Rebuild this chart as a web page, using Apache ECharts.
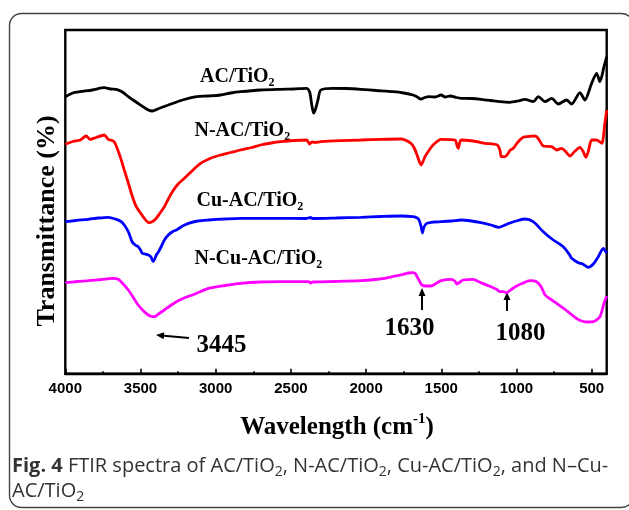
<!DOCTYPE html>
<html><head><meta charset="utf-8">
<script src="https://cdn.jsdelivr.net/npm/echarts@6/dist/echarts.min.js"></script>
<style>html,body{margin:0;padding:0;background:#fff}#c{width:629px;height:510px}</style>
</head><body><div id="c"></div>
<script>
// ---- data (wavenumber cm^-1, transmittance in arbitrary units) ----
const acWn  = [4000,3950,3901,3820,3741,3700,3661,3620,3581,3520,3448,3421,3370,3315,3220,3128,3050,2968,2900,2835,2700,2568,2480,2395,2375,2362,2349,2336,2320,2301,2221,2130,2035,1930,1821,1750,1688,1660,1635,1610,1581,1540,1501,1475,1440,1400,1368,1300,1235,1170,1110,1044,990,944,888,855,810,766,722,666,633,578,545,500,467,445,418,400];
const acT   = [277.0,280.7,282.0,283.7,286.0,284.7,284.4,281.7,277.0,270.7,263.7,262.7,265.7,268.7,273.7,277.0,277.7,278.7,280.7,282.0,283.7,284.4,284.7,285.4,281.7,269.7,260.7,264.7,273.7,283.7,285.4,285.2,284.4,283.2,282.0,280.7,278.7,276.7,274.7,276.2,277.0,276.7,278.7,276.7,277.7,276.2,275.4,275.2,274.4,273.2,272.0,271.4,272.7,274.4,272.0,277.0,272.0,275.4,269.7,273.7,269.7,281.0,273.7,290.4,300.4,292.0,307.0,317.0];

const nacWn = [4000,3950,3901,3861,3835,3795,3741,3715,3675,3635,3608,3581,3555,3528,3500,3475,3443,3420,3395,3370,3341,3315,3288,3250,3208,3150,3101,3030,2968,2900,2835,2760,2701,2630,2568,2480,2395,2376,2360,2341,2301,2168,2035,1901,1768,1701,1680,1661,1645,1635,1620,1608,1580,1555,1501,1408,1395,1387,1378,1368,1288,1208,1128,1110,1101,1077,1040,1021,990,955,920,888,866,845,822,766,733,700,670,644,610,578,555,538,520,500,467,433,412,400];
const nacT  = [229.4,232.2,233.7,237.7,234.4,236.2,238.7,234.4,232.0,217.0,203.7,190.7,177.7,167.0,160.7,155.4,151.0,152.2,155.4,160.7,167.0,174.7,182.0,189.7,195.4,203.7,210.4,215.7,218.7,221.2,223.7,226.2,228.7,230.7,232.0,233.2,233.7,229.7,231.7,231.2,232.0,233.0,233.7,234.4,234.7,230.4,225.7,218.7,211.7,208.7,212.7,217.0,223.7,228.7,234.4,233.7,227.7,225.4,230.7,233.7,232.7,230.4,228.7,223.7,217.0,217.0,223.7,225.4,231.7,236.4,237.2,237.7,237.0,232.7,227.7,227.0,223.7,225.4,221.7,217.7,222.7,226.4,221.7,216.4,223.7,233.7,233.7,230.4,250.7,263.7];

const cuWn  = [4000,3930,3848,3780,3715,3661,3630,3608,3580,3555,3535,3515,3500,3488,3470,3448,3430,3416,3405,3395,3381,3360,3341,3315,3288,3261,3220,3181,3120,3048,2940,2835,2700,2568,2400,2370,2355,2200,2035,1900,1768,1688,1660,1648,1635,1625,1615,1595,1550,1501,1430,1368,1300,1235,1170,1115,1090,1048,990,944,889,822,755,689,650,633,589,560,522,489,456,423,400];
const cuT   = [152.0,153.2,154.4,155.7,156.4,154.4,152.2,148.7,141.7,131.7,128.7,127.0,123.7,120.4,119.7,118.7,116.7,112.0,114.7,118.7,121.7,127.7,133.7,138.7,142.0,143.7,147.7,150.4,152.7,153.7,154.7,155.4,155.4,155.4,155.2,156.2,155.2,155.7,156.4,157.2,157.7,157.0,155.7,153.7,147.7,140.7,146.7,150.4,151.7,152.0,152.7,153.7,152.7,151.0,148.7,146.4,147.7,150.4,153.2,154.7,152.0,142.0,133.7,127.0,119.7,115.4,111.0,109.7,106.4,109.7,117.0,125.4,120.4];

const ncuWn = [4000,3920,3848,3760,3688,3648,3615,3581,3550,3515,3480,3448,3425,3408,3380,3341,3300,3261,3210,3155,3100,3048,2940,2835,2700,2568,2381,2368,2355,2200,2035,1940,1875,1820,1768,1720,1688,1670,1661,1645,1629,1600,1568,1530,1501,1435,1410,1395,1375,1355,1288,1240,1181,1130,1110,1088,1066,1030,999,960,911,866,835,810,770,733,690,644,600,567,530,489,445,418,400];
const ncuT  = [91.0,92.2,93.0,94.2,95.4,94.4,89.7,83.7,76.7,68.7,62.7,58.7,57.2,57.0,59.7,63.7,68.2,72.0,75.7,78.7,82.2,85.4,88.2,90.4,91.7,92.0,92.0,90.7,91.7,92.2,93.0,94.2,95.4,97.2,98.7,100.7,101.0,99.7,97.0,92.7,88.7,87.7,87.7,90.7,93.0,94.4,92.7,89.7,91.7,93.7,94.4,91.2,87.7,84.2,82.0,82.0,81.0,84.7,87.7,90.4,93.0,92.0,86.7,78.7,74.2,70.4,65.7,60.4,55.2,52.7,51.7,52.0,57.0,70.4,77.7];

const seriesNames  = ['AC/TiO2','N-AC/TiO2','Cu-AC/TiO2','N-Cu-AC/TiO2'];
const seriesColors = ['#000000','#ff0000','#0000ff','#ff00ff'];
const xMajorTicks  = [4000,3500,3000,2500,2000,1500,1000,500];
const xMinorTicks  = [3750,3250,2750,2250,1750,1250,750];
const peakLabels   = ['3445','1630','1080'];

// ---- helpers ----
const cv = document.createElement('canvas').getContext('2d');
function tw(t, f){ cv.font = f; return cv.measureText(t).width; }
const SERIF = '"Liberation Serif","Times New Roman",serif';
function rich(x, yc, parts, align, fill){
  const items = parts.map(p => { const f = 'bold ' + p[1] + 'px ' + SERIF; return {t:p[0], f, w:tw(p[0], f), k:p[2], s:p[1]}; });
  const total = items.reduce((a,b)=>a+b.w,0);
  let cx = align === 'center' ? x - total/2 : x;
  const base = parts[0][1];
  const out = [];
  items.forEach(it => {
    let y = yc;
    if (it.k === 'sub') y = yc + 0.32*base;
    if (it.k === 'sup') y = yc - 0.36*base;
    out.push({type:'text', x:cx, y:y, silent:true, style:{text:it.t, font:it.f, fill:fill||'#000', align:'left', verticalAlign:'middle'}});
    cx += it.w;
  });
  return out;
}
function plain(x, yc, segs, fill){
  let cx = x; const out = [];
  segs.forEach(s => {
    const w = tw(s[0], s[1]);
    let y = yc; if (s[2]==='sub') y = yc + 6;
    out.push({type:'text', x:cx, y:y, silent:true, style:{text:s[0], font:s[1], fill:fill, align:'left', verticalAlign:'middle'}});
    cx += w;
  });
  return out;
}

const chart = echarts.init(document.getElementById('c'), null, {renderer:'canvas'});
const wnArr = [acWn, nacWn, cuWn, ncuWn], tArr = [acT, nacT, cuT, ncuT];

const LAB = 20, SUB = 12;
let g = [];
g.push({type:'rect', silent:true, shape:{x:9.5, y:13.5, width:624, height:494, r:12}, style:{fill:'none', stroke:'#444', lineWidth:1.4}});
g = g.concat(rich(200, 77,   [['AC/TiO',LAB,'n'],['2',SUB,'sub']]));
g = g.concat(rich(194.5,130.5,[['N-AC/TiO',LAB,'n'],['2',SUB,'sub']]));
g = g.concat(rich(196.5,201,[['Cu-AC/TiO',LAB,'n'],['2',SUB,'sub']]));
g = g.concat(rich(194.5,259,[['N-Cu-AC/TiO',LAB,'n'],['2',SUB,'sub']]));
g = g.concat(rich(196.5,346,  [[peakLabels[0],25,'n']]));
g = g.concat(rich(384.5,328.3,[[peakLabels[1],25,'n']]));
g = g.concat(rich(495.5,333.3,[[peakLabels[2],25,'n']]));
function arrow(x1,y1,x2,y2){
  const a = Math.atan2(y2-y1, x2-x1), L = 8, W = 3.5;
  const bx = x2 - L*Math.cos(a), by = y2 - L*Math.sin(a);
  const px = -Math.sin(a)*W, py = Math.cos(a)*W;
  return [
    {type:'line', silent:true, shape:{x1:x1,y1:y1,x2:bx,y2:by}, style:{stroke:'#000', lineWidth:2}},
    {type:'polygon', silent:true, shape:{points:[[x2,y2],[bx+px,by+py],[bx-px,by-py]]}, style:{fill:'#000'}}
  ];
}
g = g.concat(arrow(189,338,156,335));
g = g.concat(arrow(422,310,422,288));
g = g.concat(arrow(507,311,507,292));
g = g.concat(rich(337, 428, [['Wavelength (cm',25,'n'],['-1',15,'sup'],[')',25,'n']], 'center'));
g.push({type:'text', x:47, y:221, rotation:Math.PI/2, silent:true, style:{text:'Transmittance (%)', font:'bold 26px '+SERIF, fill:'#000', align:'center', verticalAlign:'middle'}});
const CF = '20px "Open Sans"', CFB = 'bold 20px "Open Sans"', CS = '14px "Open Sans"', CC = '#333';
g = g.concat(plain(12, 466, [['Fig. 4',CFB],[' FTIR spectra of AC/TiO',CF],['2',CS,'sub'],[', N-AC/TiO',CF],['2',CS,'sub'],[', Cu-AC/TiO',CF],['2',CS,'sub'],[', and N\u2013Cu-',CF]], CC));
g = g.concat(plain(12, 491, [['AC/TiO',CF],['2',CS,'sub']], CC));

chart.setOption({
  animation:false,
  backgroundColor:'#fff',
  grid:{left:65.3, right:22.3, top:30, bottom:136.3, show:true, borderColor:'#000', borderWidth:2.4, backgroundColor:'transparent'},
  xAxis:[{
    type:'value', min:400, max:4000, inverse:true,
    axisLine:{show:true, lineStyle:{color:'#000', width:2.4}},
    axisTick:{show:true, inside:true, length:5, lineStyle:{color:'#000', width:1.6}, customValues:xMajorTicks},
    axisLabel:{show:true, customValues:xMajorTicks, formatter:v=>String(v), margin:8, color:'#000', fontFamily:'"Liberation Sans",Arial,sans-serif', fontWeight:'bold', fontSize:15},
    splitLine:{show:false}
  },{
    type:'value', min:400, max:4000, inverse:true, position:'bottom',
    axisLine:{show:false},
    axisTick:{show:true, inside:true, length:2.5, lineStyle:{color:'#000', width:1.6}, customValues:xMinorTicks},
    axisLabel:{show:false}, splitLine:{show:false}
  }],
  yAxis:{type:'value', min:0, max:343.7, show:false, splitLine:{show:false}},
  series: seriesNames.map((n,i)=>({
    name:n, type:'line', xAxisIndex:0, showSymbol:false, smooth:0.25,
    data: wnArr[i].map((w,j)=>[w, tArr[i][j]]),
    lineStyle:{color:seriesColors[i], width:2.8}, itemStyle:{color:seriesColors[i]}
  })),
  graphic: g
});
</script></body></html>
